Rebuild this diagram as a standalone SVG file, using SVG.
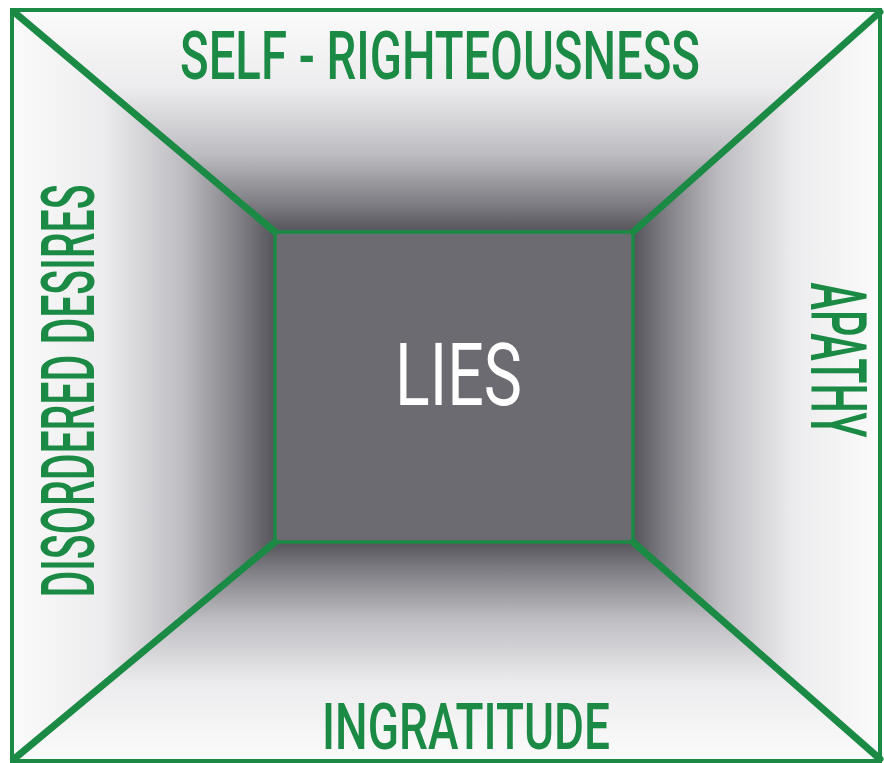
<svg xmlns="http://www.w3.org/2000/svg" width="884" height="763" viewBox="0 0 884 763">
<style>
.lbl{font-family:Roboto,"Liberation Sans",sans-serif;font-weight:500;fill:#1b8a45;}
.edge{stroke:#1b8a45;fill:none;stroke-linecap:round;}
</style>
<defs>
<linearGradient id="gTop" gradientUnits="userSpaceOnUse" x1="0" y1="10" x2="0" y2="232">
<stop offset="0" stop-color="#fbfbfb"/><stop offset="0.35" stop-color="#ececee"/><stop offset="0.65" stop-color="#bdbcc1"/><stop offset="0.87" stop-color="#7f7e84"/><stop offset="1" stop-color="#55545a"/>
</linearGradient>
<linearGradient id="gBot" gradientUnits="userSpaceOnUse" x1="0" y1="760" x2="0" y2="542">
<stop offset="0" stop-color="#fbfbfb"/><stop offset="0.35" stop-color="#ececee"/><stop offset="0.65" stop-color="#bdbcc1"/><stop offset="0.87" stop-color="#7f7e84"/><stop offset="1" stop-color="#55545a"/>
</linearGradient>
<linearGradient id="gLeft" gradientUnits="userSpaceOnUse" x1="12" y1="0" x2="275" y2="0">
<stop offset="0" stop-color="#fbfbfb"/><stop offset="0.35" stop-color="#ececee"/><stop offset="0.65" stop-color="#bdbcc1"/><stop offset="0.87" stop-color="#7f7e84"/><stop offset="1" stop-color="#55545a"/>
</linearGradient>
<linearGradient id="gRight" gradientUnits="userSpaceOnUse" x1="880" y1="0" x2="633" y2="0">
<stop offset="0" stop-color="#fbfbfb"/><stop offset="0.35" stop-color="#ececee"/><stop offset="0.65" stop-color="#bdbcc1"/><stop offset="0.87" stop-color="#7f7e84"/><stop offset="1" stop-color="#55545a"/>
</linearGradient>
</defs>
<rect width="884" height="763" fill="#ffffff"/>
<g id="self-righteousness">
<polygon points="12,10 880,10 633,232 275,232" fill="url(#gTop)"/>
<text class="lbl" x="180" y="79" font-size="67" textLength="520" lengthAdjust="spacingAndGlyphs">SELF - RIGHTEOUSNESS</text>
</g>
<g id="ingratitude">
<polygon points="12,761 880,761 633,542 275,542" fill="url(#gBot)"/>
<text class="lbl" x="322" y="749" font-size="65" textLength="288" lengthAdjust="spacingAndGlyphs">INGRATITUDE</text>
</g>
<g id="disordered-desires">
<polygon points="12,10 275,232 275,542 12,761" fill="url(#gLeft)"/>
<text class="lbl" transform="translate(94,391) rotate(-90)" x="0" y="0" text-anchor="middle" font-size="74" textLength="413" lengthAdjust="spacingAndGlyphs">DISORDERED DESIRES</text>
</g>
<g id="apathy">
<polygon points="880,10 633,232 633,542 880,761" fill="url(#gRight)"/>
<text class="lbl" transform="translate(811,360) rotate(90)" x="0" y="0" text-anchor="middle" font-size="78" textLength="155" lengthAdjust="spacingAndGlyphs">APATHY</text>
</g>
<g id="lies">
<rect x="275" y="232" width="358" height="310" fill="#6c6b71" stroke="#1b8a45" stroke-width="3.5"/>
<text x="395" y="405" font-family="Roboto,'Liberation Sans',sans-serif" font-size="88" fill="#ffffff" textLength="127" lengthAdjust="spacingAndGlyphs">LIES</text>
</g>
<g id="connectors">
<rect class="edge" x="12" y="10" width="868" height="751" stroke-width="4"/>
<line class="edge" x1="14" y1="12" x2="275" y2="232" stroke-width="7"/>
<line class="edge" x1="880" y1="12" x2="633" y2="232" stroke-width="7"/>
<line class="edge" x1="14" y1="759" x2="275" y2="542" stroke-width="7"/>
<line class="edge" x1="880" y1="759" x2="633" y2="542" stroke-width="7"/>
</g>
</svg>
